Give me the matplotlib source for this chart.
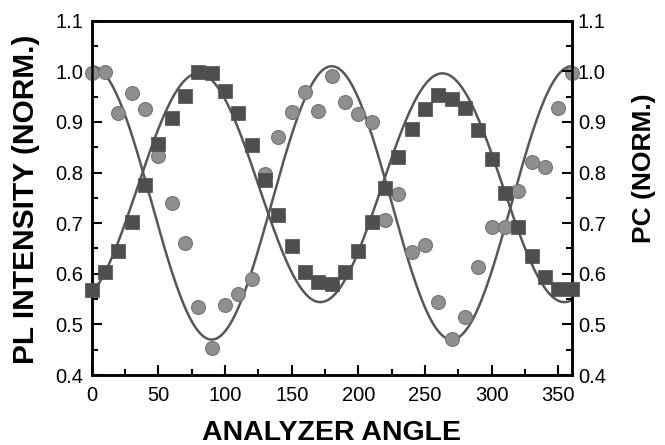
import numpy as np
import matplotlib
matplotlib.use("Agg")
import matplotlib.pyplot as plt
from matplotlib.ticker import MultipleLocator

plt.rcParams['font.family'] = ['Liberation Sans', 'DejaVu Sans']

# analyzer angle (deg), one point every 10 deg
angle = np.arange(0, 361, 10)

# circles (PL intensity, norm.)
pl = [0.997, 0.999, 0.917, 0.958, 0.925, 0.833, 0.739, 0.661, 0.534, 0.453,
      0.538, 0.560, 0.589, 0.798, 0.870, 0.920, 0.960, 0.922, 0.991, 0.940,
      0.916, 0.900, 0.706, 0.757, 0.643, 0.657, 0.545, 0.472, 0.515, 0.613,
      0.693, 0.693, 0.764, 0.821, 0.810, 0.927, 0.996]

# squares (PC, norm.)
pc = [0.568, 0.604, 0.645, 0.703, 0.775, 0.856, 0.908, 0.951, 0.999, 0.997,
      0.962, 0.918, 0.854, 0.785, 0.717, 0.655, 0.604, 0.583, 0.580, 0.604,
      0.645, 0.703, 0.769, 0.831, 0.887, 0.925, 0.953, 0.945, 0.927, 0.884,
      0.826, 0.760, 0.692, 0.635, 0.593, 0.569, 0.569]

# cosine fit parameters: offset, amplitude, period, peak angle
pl_fit = (0.740, 0.270, 180.0, 0.0)
pc_fit = (0.770, 0.226, 183.0, 80.0)


def fit_curve(th, p):
    c, a, period, th0 = p
    return c + a * np.cos(2 * np.pi * (th - th0) / period)


fig = plt.figure(figsize=(6.65, 4.45), dpi=100)
ax = fig.add_axes([0.1379, 0.1573, 0.7218, 0.7962])
ax2 = ax.twinx()

th = np.linspace(0, 360, 721)
line_col = '#575757'
ax.plot(th, fit_curve(th, pl_fit), color=line_col, lw=1.8, zorder=2)
ax.plot(th, fit_curve(th, pc_fit), color=line_col, lw=1.8, zorder=2)

ax.plot(angle, pl, 'o', ms=10, mfc='#8f8f8f', mec='#747474', mew=0.8,
        zorder=3, clip_on=False)
ax2.plot(angle, pc, 's', ms=9.5, mfc='#4e4e4e', mec='#4e4e4e', mew=0.5,
         zorder=3, clip_on=False)

for a in (ax, ax2):
    a.set_xlim(0, 360)
    a.set_ylim(0.4, 1.1)
    a.yaxis.set_major_locator(MultipleLocator(0.1))
    a.yaxis.set_minor_locator(MultipleLocator(0.05))
    for s in a.spines.values():
        s.set_linewidth(1.8)

ax.xaxis.set_major_locator(MultipleLocator(50))
ax.xaxis.set_minor_locator(MultipleLocator(25))
ax.tick_params(axis='both', which='major', direction='in', length=7, width=1.5,
               labelsize=14.5, top=False, right=False)
ax.tick_params(axis='x', which='major', pad=8)
ax.tick_params(axis='y', which='major', pad=6)
ax.tick_params(axis='both', which='minor', direction='in', length=4, width=1.5,
               top=False, right=False)
ax2.tick_params(axis='y', which='major', direction='in', length=7, width=1.5,
                labelsize=14.5, pad=4.5)
ax2.tick_params(axis='y', which='minor', direction='in', length=4, width=1.5)

ax.set_yticklabels(['%.1f' % v for v in ax.get_yticks()])
ax2.set_yticklabels(['%.1f' % v for v in ax2.get_yticks()])

ax.set_xlabel('ANALYZER ANGLE', fontsize=20.5, fontweight='bold')
ax.xaxis.set_label_coords(0.5, -0.127)
ax.set_ylabel('PL INTENSITY (NORM.)', fontsize=21.5, fontweight='bold')
ax.yaxis.set_label_coords(-0.108, 0.497)
ax2.set_ylabel('PC (NORM.)', fontsize=19, fontweight='bold')
ax2.yaxis.set_label_coords(1.126, 0.583)

fig.savefig('out.png', dpi=100)
